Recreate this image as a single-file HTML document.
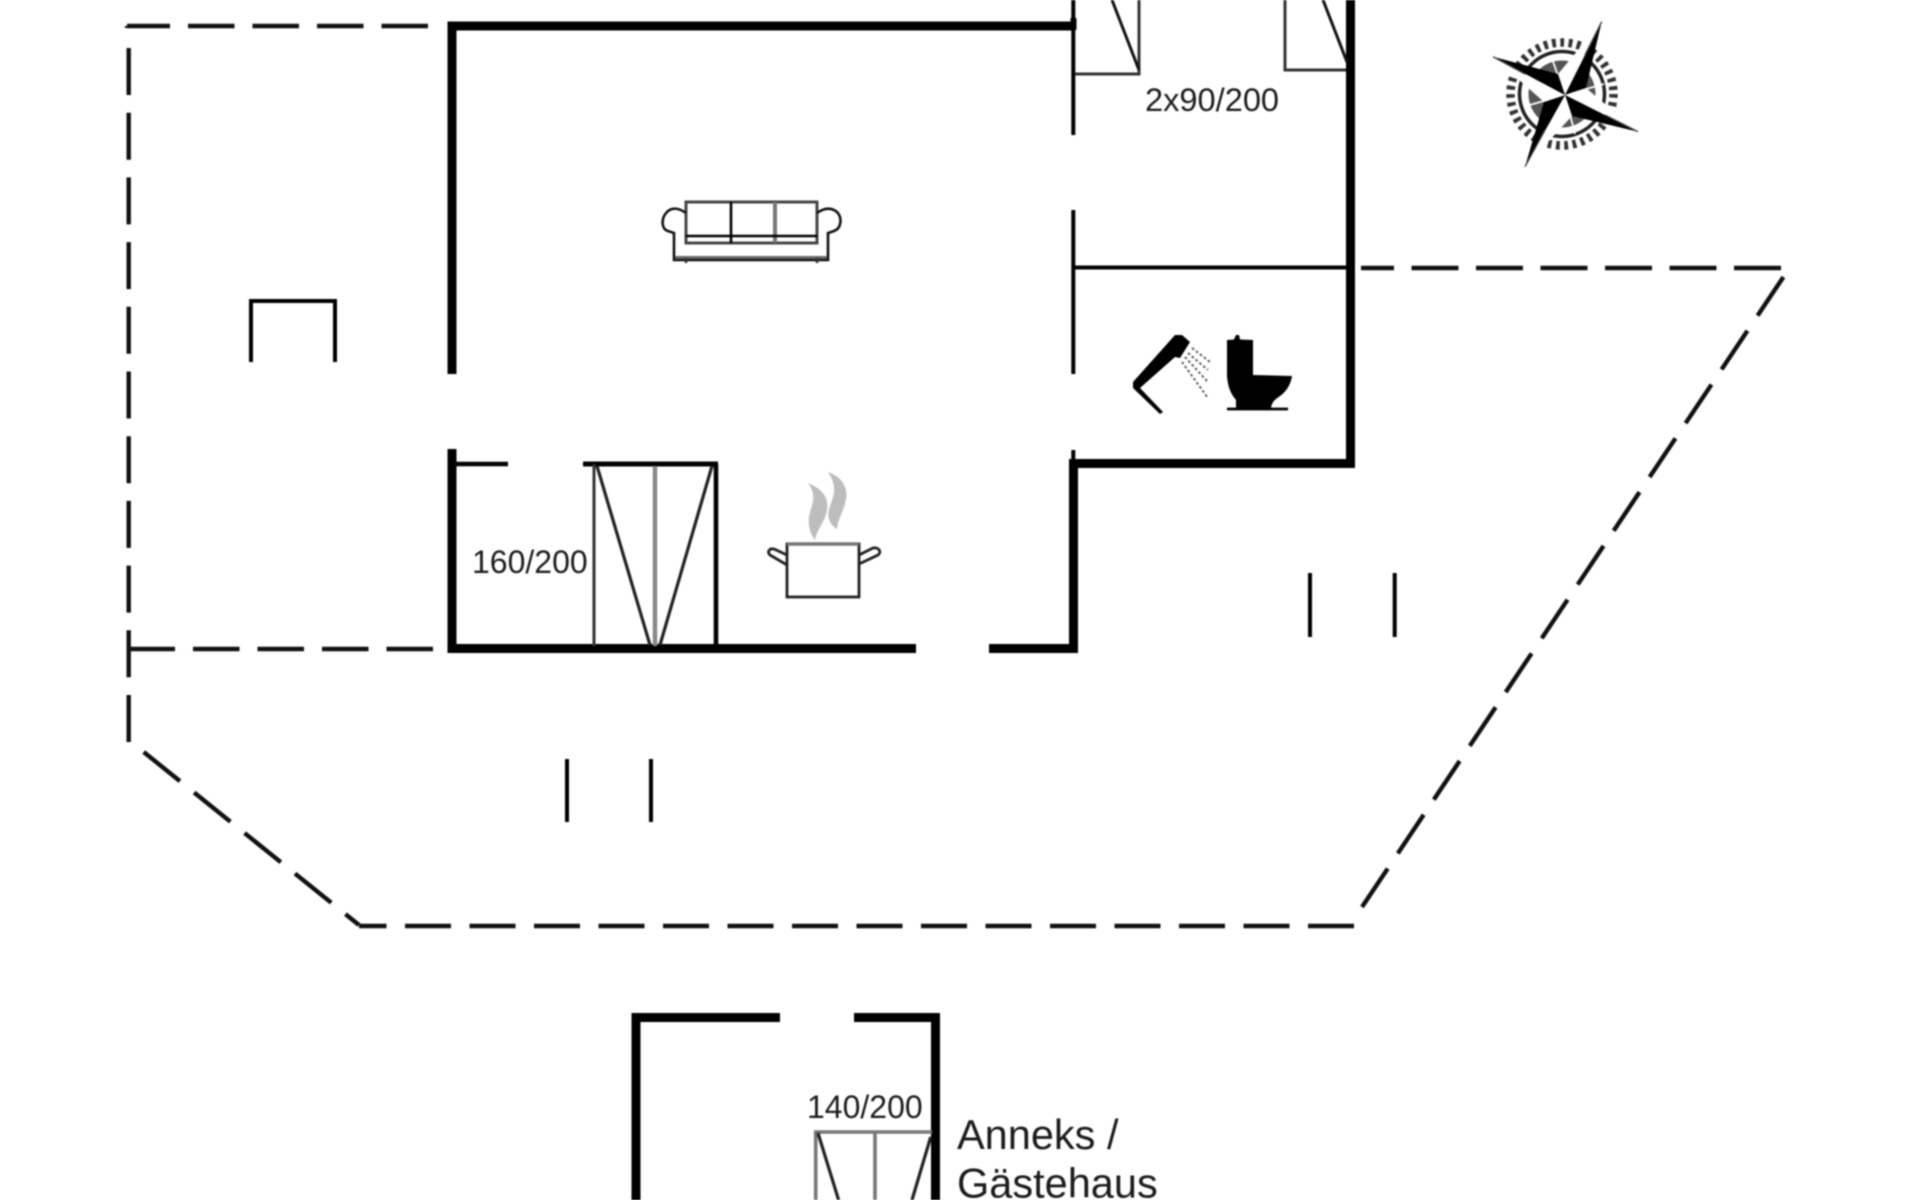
<!DOCTYPE html>
<html lang="de">
<head>
<meta charset="utf-8">
<title>Floor plan</title>
<style>
html,body{margin:0;padding:0;background:#fff;width:1920px;height:1200px;overflow:hidden}
svg{display:block;position:absolute;left:0;top:0;filter:blur(.7px)}
text{font-family:"Liberation Sans",sans-serif;fill:#1c1c1c}
</style>
</head>
<body>
<svg width="1920" height="1200" viewBox="0 0 1920 1200" xmlns="http://www.w3.org/2000/svg">
<rect width="1920" height="1200" fill="#fff"/>

<!-- dashed outlines -->
<g fill="none" stroke="#111" stroke-width="4.4">
  <path d="M428 26H127" stroke-dasharray="46.5 18"/>
  <path d="M127 28V26" />
  <path d="M128.7 48V742" stroke-dasharray="47 17.7"/>
  <path d="M433 649H128.7" stroke-dasharray="46.5 18"/>
  <path d="M143.7 752L359 925" stroke-dasharray="46.5 18.2"/>
  <path d="M1354 926H359" stroke-dasharray="46 18.5"/>
  <path d="M1781 268H1361" stroke-dasharray="47 17.5"/>
  <path d="M1783.4 277L1362 907" stroke-dasharray="46.5 18.2"/>
</g>

<!-- thick walls -->
<g fill="none" stroke="#000" stroke-width="9" stroke-linecap="butt">
  <path d="M452 374V26H1075"/>
  <path d="M1073.5 18V30" stroke-width="6"/>
  <path d="M452 449V648.5H916"/>
  <path d="M989 648.5H1073.5V459"/>
  <path d="M1069 463.5H1350.5V0"/>
  <path d="M636 1200V1017.5H780"/>
  <path d="M854 1017.5H935.5V1200"/>
</g>

<!-- thin walls -->
<g fill="none" stroke="#000" stroke-width="4">
  <path d="M1073.3 0V135"/>
  <path d="M1073.3 210V374"/>
  <path d="M1073.3 450V464"/>
  <path d="M1073 267.5H1348"/>
  <path d="M452 464H508" stroke-width="4.6"/>
  <path d="M583 464H718" stroke-width="5"/>
  <path d="M251 362V301H335V362"/>
  <path d="M567 759V822"/>
  <path d="M651 759V822"/>
  <path d="M1310 573V637"/>
  <path d="M1394.7 573V637"/>
</g>

<!-- beds upstairs -->
<g fill="none" stroke="#333" stroke-width="3">
  <path d="M1075 74H1139V0"/>
  <path d="M1112 0L1139 70" stroke="#111"/>
  <path d="M1285 0V70H1346"/>
  <path d="M1323 0L1347 62" stroke="#111"/>
</g>

<!-- bed 160/200 -->
<g fill="none">
  <path d="M594 464V646" stroke="#333" stroke-width="3"/>
  <path d="M716 464V648" stroke="#000" stroke-width="4.6"/>
  <path d="M655 466V646" stroke="#888" stroke-width="4.4"/>
  <path d="M597 466L650 645M712 466L660 645" stroke="#222" stroke-width="3.2"/>
</g>

<!-- annex bed -->
<g fill="none">
  <path d="M815.7 1200V1132H932" stroke="#777" stroke-width="3.6"/>
  <path d="M875 1132V1200" stroke="#777" stroke-width="3.6"/>
  <path d="M818 1133L838.6 1200M930.7 1137L912 1200" stroke="#222" stroke-width="3.2"/>
</g>

<!-- sofa -->
<g fill="none" stroke="#222" stroke-width="2.6">
  <rect x="686" y="202" width="131" height="41" stroke="#444" stroke-width="3"/>
  <path d="M731 202V243" stroke="#000"/>
  <path d="M775 202V243" stroke="#777" stroke-width="4"/>
  <path d="M686 236H817" stroke="#000"/>
  <path d="M686 213C679 208 672 207 667 212C661 218 661 229 668 231L674 233V260H828V233L834 231C842 228 842 217 837 212C831 207 824 208 817 213" stroke="#111"/>
  <path d="M675 257.500H827" stroke="#666" stroke-width="3"/>
  <path d="M686 258V263M817 258V263" stroke="#333"/>
</g>

<!-- pot -->
<g fill="none" stroke="#222" stroke-width="2.800">
  <rect x="787" y="544" width="72" height="53" fill="#fff"/>
  <path d="M787 544H859" stroke="#777" stroke-width="3.4"/>
  <path d="M787 555L774 549C769 548 767 552 770 555L787 565"/>
  <path d="M859 555L873 548C879 547 882 552 878 555L859 564"/>
</g>
<g fill="#bdbdbd">
  <path d="M808 483C822 489 829 497 827 510C825 522 817 529 815 540C810 534 808 525 809 517C811 505 818 497 808 483Z"/>
  <path d="M828 472C842 477 848 487 846 499C844 511 838 518 837 529C830 525 827 518 829 510C831 500 840 490 828 472Z"/>
</g>

<!-- shower -->
<path d="M1175 335L1182 335L1190 342L1180 358L1175 357L1140 388L1163 412L1160 414L1133 388L1133 382Z" fill="#000"/>
<g fill="none" stroke="#555" stroke-width="1.900" stroke-dasharray="2.600 2.400">
  <path d="M1192 348L1210 362"/>
  <path d="M1188 353L1208 370"/>
  <path d="M1185 357L1208 382"/>
  <path d="M1182 362L1208 398"/>
</g>

<!-- toilet -->
<path d="M1227 340L1234 339.500L1236 335H1239L1240 339.500L1253 340V375L1292 376C1291 384 1286 392 1280 396C1276 399 1272 401 1271 408H1236V400C1231 394 1228 388 1227 376Z" fill="#000"/>
<path d="M1227 409H1288" stroke="#000" stroke-width="2.800" fill="none"/>

<!-- compass -->
<g>
  <circle cx="1562" cy="94" r="51.500" fill="none" stroke="#333" stroke-width="8.500" stroke-dasharray="3.800 4.500"/>
  <circle cx="1562" cy="94" r="42.500" fill="#fff" stroke="#222" stroke-width="3.500"/>
  <circle cx="1562" cy="94" r="33.500" fill="#555"/>
  <g fill="none" stroke="#fff" stroke-width="1.800">
    <path d="M1565 95L1551 56M1565 95L1604 84M1565 95L1575 134M1565 95L1526 106"/>
  </g>
  <!-- white counter-clockwise half, black clockwise half of each arm -->
  <polygon points="1565,95 1601.700,21.700 1558,74" fill="#fff"/>
  <polygon points="1565,95 1601.700,21.700 1586,88" fill="#000"/>
  <polygon points="1565,95 1638,131.700 1586,88" fill="#fff"/>
  <polygon points="1565,95 1638,131.700 1572,116" fill="#000"/>
  <polygon points="1565,95 1525,166.700 1572,116" fill="#fff"/>
  <polygon points="1565,95 1525,166.700 1544,102" fill="#000"/>
  <polygon points="1565,95 1493,56.700 1544,102" fill="#fff"/>
  <polygon points="1565,95 1493,56.700 1558,74" fill="#000"/>
  <path d="M1601.700 21.700L1585 55M1525 166.700L1545 130M1493 56.700L1525 74M1638 131.700L1605 115" stroke="#444" stroke-width="1.400" fill="none"/>
</g>

<!-- labels -->
<text x="1145" y="111" font-size="32.600">2x90/200</text>
<text x="472" y="573" font-size="32">160/200</text>
<text x="807" y="1118" font-size="32">140/200</text>
<text x="957" y="1149" font-size="41.500">Anneks /</text>
<text x="957" y="1197.500" font-size="41.500">Gästehaus</text>
</svg>
</body>
</html>
